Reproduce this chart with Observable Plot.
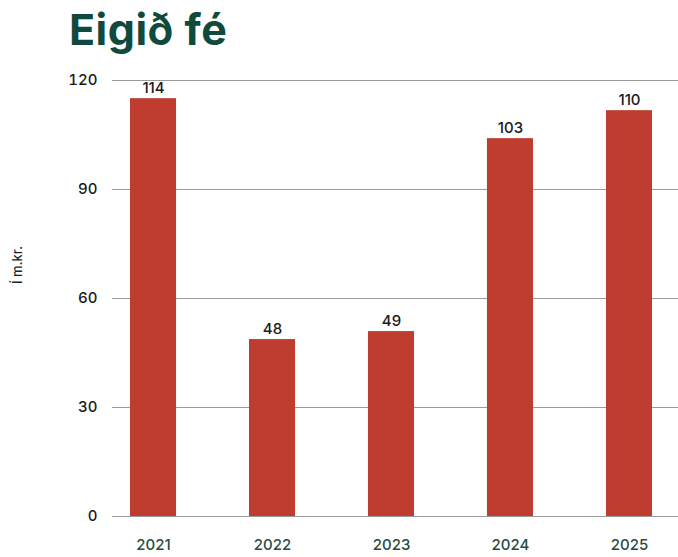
<!DOCTYPE html>
<html>
<head>
<meta charset="utf-8">
<script src="https://cdn.jsdelivr.net/npm/d3@7"></script>
<script src="https://cdn.jsdelivr.net/npm/@observablehq/plot@0.6"></script>
<style>
  html, body { margin: 0; padding: 0; background: #fff; }
  #wrap { position: relative; width: 678px; height: 557px; font-family: Inter, "Noto Sans", sans-serif; }
  #title { position: absolute; left: 69px; top: 0px; font-size: 43px; font-weight: 700; color: #0f4a3d; line-height: 58px; letter-spacing: 0.5px; }
  #ylab { position: absolute; left: 17px; top: 265px; transform: translate(-50%, -50%) rotate(-90deg); font-size: 13px; font-weight: 500; color: #222; white-space: nowrap; }
  #chart { position: absolute; left: 0; top: 60px; }
</style>
</head>
<body>
<div id="wrap">
  <div id="title">Eigið fé</div>
  <div id="ylab">Í m.kr.</div>
  <div id="chart"></div>
</div>
<script>
const years = ["2021", "2022", "2023", "2024", "2025"];
const values = [115.0, 48.7, 50.9, 104.0, 111.7];
const labels = ["114", "48", "49", "103", "110"];
const yTicks = [0, 30, 60, 90, 120];

const data = years.map((y, i) => ({year: y, value: values[i], label: labels[i]}));

const chart = Plot.plot({
  width: 678,
  height: 497,
  marginTop: 20,
  marginBottom: 41,
  marginLeft: 112,
  marginRight: 0,
  style: {fontFamily: "Inter, 'Noto Sans', sans-serif", fontSize: "15px", fontWeight: 500, color: "#222"},
  x: {domain: years, range: [130, 652], paddingInner: 0.613, paddingOuter: 0, round: false, label: null},
  y: {domain: [0, 120], ticks: yTicks, label: null},
  marks: [
    Plot.ruleY(yTicks, {stroke: "#9a9a9a", strokeWidth: 1}),
    Plot.barY(data, {x: "year", y: "value", fill: "#bf3d2f"}),
    Plot.text(data, {x: "year", y: "value", text: "label", dy: -6, lineAnchor: "bottom", fill: "#1a1a1a", fontSize: 15, fontWeight: 500}),
    Plot.axisY({ticks: yTicks, tickSize: 0, tickPadding: 15, fontSize: 15, fill: "#1a1a1a", label: null}),
    Plot.axisX({tickSize: 0, tickPadding: 23, fontSize: 15, fill: "#2a4a42", label: null})
  ]
});
document.getElementById("chart").appendChild(chart);
</script>
</body>
</html>
